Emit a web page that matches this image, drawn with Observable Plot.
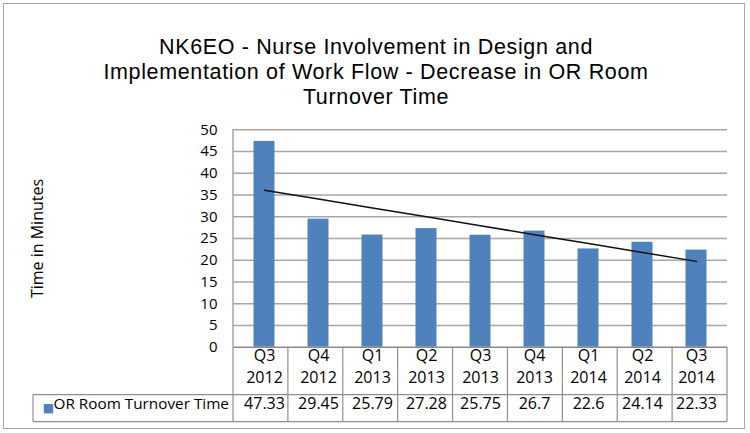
<!DOCTYPE html>
<html><head><meta charset="utf-8">
<script src="https://cdn.jsdelivr.net/npm/d3@7"></script>
<script src="https://cdn.jsdelivr.net/npm/@observablehq/plot@0.6"></script>
<style>
body{margin:0;background:#fff;}
#wrap{position:relative;width:750px;height:433px;font-family:"Open Sans",sans-serif;color:#000;overflow:hidden;}
#title{position:absolute;left:0;top:34.5px;width:752px;text-align:center;font-family:"Liberation Sans",Arial,sans-serif;font-size:21.5px;line-height:25px;letter-spacing:0.65px;}
#title div{height:25px;white-space:nowrap;}
#chart{position:absolute;left:0;top:120px;}
#border{position:absolute;left:3px;top:3px;width:740px;height:424px;border:1.5px solid #a6a6a6;pointer-events:none;}
</style>
</head><body>
<div id="wrap">
  <div id="title"><div>NK6EO - Nurse Involvement in Design and</div><div>Implementation of Work Flow - Decrease in OR Room</div><div>Turnover Time</div></div>
  <div id="chart"></div>
  <div id="border"></div>
</div>
<script>
const quarters = ["Q3","Q4","Q1","Q2","Q3","Q4","Q1","Q2","Q3"];
const years = ["2012","2012","2013","2013","2013","2013","2014","2014","2014"];
const values = [47.33,29.45,25.79,27.28,25.75,26.7,22.6,24.14,22.33];
const valueLabels = ["47.33","29.45","25.79","27.28","25.75","26.7","22.6","24.14","22.33"];
const yTicks = [0,5,10,15,20,25,30,35,40,45,50];
const seriesName = "OR Room Turnover Time";
const yTitle = "Time in Minutes";

const categories = quarters.map((q,i) => q + " " + years[i]);
const rows = categories.map((c,i) => ({cat:c, q:quarters[i], yr:years[i], v:values[i], lab:valueLabels[i]}));

// linear trend line fitted to the series
const idx = d3.range(values.length);
const mx = d3.mean(idx), my = d3.mean(values);
const slope = d3.sum(idx, i => (i-mx)*(values[i]-my)) / d3.sum(idx, i => (i-mx)**2);
const trend = rows.map((r,i) => ({cat:r.cat, t: my + slope*(i-mx)}));

const blue = "#4f81bd";
const plot = Plot.plot({
  width: 750, height: 313,
  marginTop: 9.3, marginLeft: 233, marginRight: 23, marginBottom: 86.3,
  style: {fontFamily: "'Open Sans', sans-serif", fontSize: "15px", background: "transparent", color: "#000"},
  x: {domain: categories, padding: 0, axis: null},
  y: {domain: [0,50], ticks: yTicks, tickSize: 0, tickPadding: 16, label: null, tickFormat: d => String(d)},
  marks: [
    Plot.ruleY(yTicks.slice(1), {stroke: "#a6a6a6", strokeWidth: 1.5}),
    Plot.barY(rows, {x: "cat", y: "v", fill: blue, insetLeft: 16.5, insetRight: 16.5}),
    Plot.ruleY([0], {stroke: "#8a8a8a", strokeWidth: 1.5}),
    Plot.line(trend, {x: "cat", y: "t", stroke: "#111", strokeWidth: 1.5}),
    Plot.text(rows, {x: "cat", text: "q", frameAnchor: "bottom", dy: 13.8, fontSize: 16}),
    Plot.text(rows, {x: "cat", text: "yr", frameAnchor: "bottom", dy: 35.5, fontSize: 16}),
    Plot.text(rows, {x: "cat", text: "lab", frameAnchor: "bottom", dy: 61.5, fontSize: 16}),
    Plot.text([seriesName], {frameAnchor: "bottom-left", dx: -180, dy: 61.5, textAnchor: "start", fontSize: 15.3}),
    Plot.dot([seriesName], {x: () => categories[0], y: () => 0, dx: -216, dy: 61.5, symbol: "square", r: 5.3, fill: blue, stroke: null}),
    Plot.text([yTitle], {frameAnchor: "left", textAnchor: "middle", rotate: -90, dx: -196, fontSize: 16})
  ]
});
document.getElementById("chart").appendChild(plot);

// table grid lines from the plot's scales
const xs = plot.scale("x"), ys = plot.scale("y");
const [x0, x1] = xs.range;
const n = xs.domain.length;
const y0 = ys.apply(0), yTop = ys.apply(50);
const r1 = y0 + 48, r2 = y0 + 75;
const legendLeft = 33;
const g = d3.select(plot).append("g").attr("stroke", "#8f8f8f").attr("stroke-width", 1.2).attr("fill", "none");
g.append("line").attr("x1", x0).attr("x2", x0).attr("y1", yTop).attr("y2", y0).attr("stroke", "#a6a6a6").attr("stroke-width", 1.5);
for (let i = 0; i <= n; i++) {
  const xx = x0 + i*(x1-x0)/n;
  g.append("line").attr("x1", xx).attr("x2", xx).attr("y1", y0).attr("y2", r2);
}
g.append("line").attr("x1", legendLeft).attr("x2", x1).attr("y1", r1).attr("y2", r1);
g.append("line").attr("x1", legendLeft).attr("x2", x1).attr("y1", r2).attr("y2", r2);
g.append("line").attr("x1", legendLeft).attr("x2", legendLeft).attr("y1", r1).attr("y2", r2);
</script>
</body></html>
